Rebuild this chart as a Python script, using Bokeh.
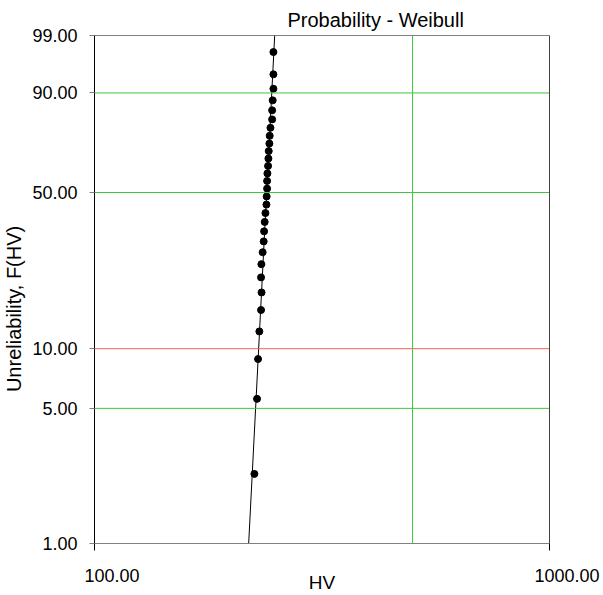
import numpy as np
from bokeh.plotting import figure
from bokeh.models import Span, FixedTicker, CustomJSTickFormatter, Range1d, ColumnDataSource
from bokeh.embed import file_html
from bokeh.resources import INLINE

# ---- data ----
hv = [224.6, 227.6, 228.8, 230.3, 232.3, 232.9, 232.3, 232.7, 234.2, 235.4,
      235.9, 236.6, 237.5, 238.7, 239.0, 239.5, 239.5, 239.9, 240.7, 241.1,
      241.5, 242.3, 242.7, 243.6, 245.7, 245.7, 246.4, 247.3, 247.3, 247.3]
unreliability = [2.30, 5.59, 8.88, 12.17, 15.46, 18.75, 22.04, 25.33, 28.62, 31.91,
                 35.20, 38.49, 41.78, 45.07, 48.36, 51.64, 54.93, 58.22, 61.51, 64.80,
                 68.09, 71.38, 74.67, 77.96, 81.25, 84.54, 87.83, 91.12, 94.41, 97.70]
fit_hv = [218.2, 248.9]
fit_unreliability = [1.0, 99.0]
y_ticks = [1, 5, 10, 50, 90, 99]
x_ticks = [100, 1000]
x_tick_labels = ["100.00", "1000.00"]
green_levels = [5, 50, 90]
red_levels = [10]
green_x = [500]
border_x = [1000]

GREEN = "#3cc83c"
RED = "#ff5a5a"
GRAY = "#808080"
FONT = "Liberation Sans"
NB = "\u00a0"


def wb(p):
    return np.log(-np.log(1.0 - np.asarray(p, dtype=float) / 100.0))


y_lo, y_hi = float(wb(1)), float(wb(99))

p = figure(width=603, height=595, x_axis_type="log",
           x_range=Range1d(100, 1000), y_range=Range1d(y_lo, y_hi),
           output_backend="svg", toolbar_location=None,
           min_border_left=94, min_border_right=54,
           min_border_top=35, min_border_bottom=51)
p.xgrid.visible = False
p.ygrid.visible = False
p.outline_line_color = GRAY
p.background_fill_color = "white"
p.border_fill_color = "white"

# title
p.title.text = "Probability - Weibull"
p.title.align = "left"
p.title.offset = 193
p.title.text_font = FONT
p.title.text_font_size = "20px"
p.title.text_font_style = "normal"
p.title.text_color = "black"
p.title.standoff = 9

# y axis
p.yaxis.ticker = FixedTicker(ticks=[float(v) for v in wb(y_ticks)], minor_ticks=[])
p.yaxis.formatter = CustomJSTickFormatter(
    code="return ((1 - Math.exp(-Math.exp(tick))) * 100).toFixed(2);")
p.yaxis.axis_line_color = "black"
p.yaxis.major_tick_line_color = GRAY
p.yaxis.major_tick_in = 0
p.yaxis.major_tick_out = 5
p.yaxis.minor_tick_line_color = None
p.yaxis.major_label_standoff = 12
p.yaxis.major_label_text_font = FONT
p.yaxis.major_label_text_font_size = "18px"
p.yaxis.major_label_text_color = "black"
p.yaxis.axis_label = "Unreliability, F(HV)" + NB * 7
p.yaxis.axis_label_text_font = FONT
p.yaxis.axis_label_text_font_size = "20px"
p.yaxis.axis_label_text_font_style = "normal"
p.yaxis.axis_label_text_color = "black"
p.yaxis.axis_label_standoff = 4

# x axis: labels padded on the left so they sit right of their ticks, as in the reference
pad_labels = {str(t): NB * 7 + s for t, s in zip(x_ticks, x_tick_labels)}
p.xaxis.ticker = FixedTicker(ticks=x_ticks, minor_ticks=[])
p.xaxis.formatter = CustomJSTickFormatter(
    args=dict(labels=pad_labels),
    code="return labels[String(Math.round(tick))];")
p.xaxis.axis_line_color = GRAY
p.xaxis.major_tick_line_color = "black"
p.xaxis.major_tick_in = 0
p.xaxis.major_tick_out = 7
p.xaxis.minor_tick_line_color = None
p.xaxis.major_label_standoff = 15
p.xaxis.major_label_text_font = FONT
p.xaxis.major_label_text_font_size = "18px"
p.xaxis.major_label_text_color = "black"
p.xaxis.axis_label = "HV"
p.xaxis.axis_label_text_font = FONT
p.xaxis.axis_label_text_font_size = "19px"
p.xaxis.axis_label_text_font_style = "normal"
p.xaxis.axis_label_text_color = "black"
p.xaxis.axis_label_standoff = -17

for lv in green_levels:
    p.add_layout(Span(location=float(wb(lv)), dimension="width", line_color=GREEN, line_width=1))
for lv in red_levels:
    p.add_layout(Span(location=float(wb(lv)), dimension="width", line_color=RED, line_width=1))
for xv in green_x:
    p.add_layout(Span(location=xv, dimension="height", line_color=GREEN, line_width=1))
for xv in border_x:
    p.add_layout(Span(location=xv, dimension="height", line_color="black", line_width=1))

# fitted line and points
p.line(fit_hv, [float(v) for v in wb(fit_unreliability)], line_color="black", line_width=1)
src = ColumnDataSource(dict(x=hv, y=[float(v) for v in wb(unreliability)]))
p.scatter("x", "y", source=src, size=7, fill_color="black", line_color="black")

open("out.html", "w").write(file_html(p, INLINE))
